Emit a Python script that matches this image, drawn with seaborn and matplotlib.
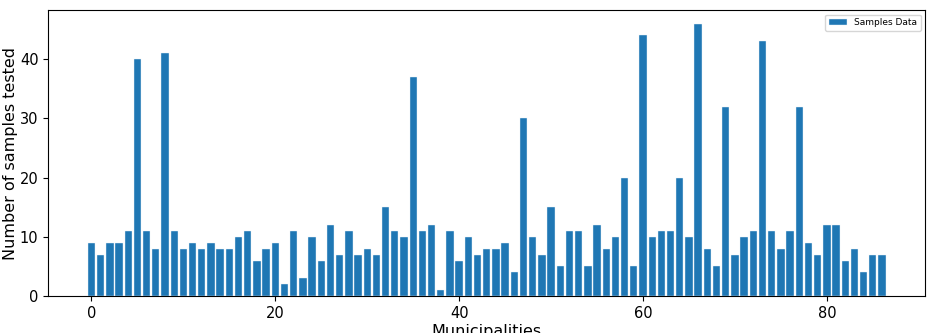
import matplotlib
matplotlib.use("Agg")
import matplotlib.pyplot as plt
import seaborn as sns
import pandas as pd

# samples tested per municipality (index 0..86)
samples = [9, 7, 9, 9, 11, 40, 11, 8, 41, 11,
           8, 9, 8, 9, 8, 8, 10, 11, 6, 8,
           9, 2, 11, 3, 10, 6, 12, 7, 11, 7,
           8, 7, 15, 11, 10, 37, 11, 12, 1, 11,
           6, 10, 7, 8, 8, 9, 4, 30, 10, 7,
           15, 5, 11, 11, 5, 12, 8, 10, 20, 5,
           44, 10, 11, 11, 20, 10, 46, 8, 5, 32,
           7, 10, 11, 43, 11, 8, 11, 32, 9, 7,
           12, 12, 6, 8, 4, 7, 7]
municipalities = list(range(len(samples)))

df = pd.DataFrame({"Municipalities": municipalities, "Samples": samples})

fig, ax = plt.subplots(figsize=(9.28, 3.33), dpi=100)
fig.subplots_adjust(left=0.052, right=0.997, top=0.97, bottom=0.111)

sns.barplot(data=df, x="Municipalities", y="Samples", native_scale=True,
            color="#1f77b4", saturation=1, edgecolor="#e8f1fa", linewidth=0.3,
            width=0.8, label="Samples Data", ax=ax)

ax.set_xlim(-4.7, 90.7)
ax.set_ylim(0, 48.3)
ax.set_xticks([0, 20, 40, 60, 80])
ax.set_yticks([0, 10, 20, 30, 40])
ax.tick_params(labelsize=10.5)
ax.set_xlabel("Municipalities", fontsize=11.5, labelpad=2)
ax.set_ylabel("Number of samples tested", fontsize=11.5, labelpad=1)
ax.legend(loc="upper right", fontsize=6.5)

fig.savefig("out.png", dpi=100)
